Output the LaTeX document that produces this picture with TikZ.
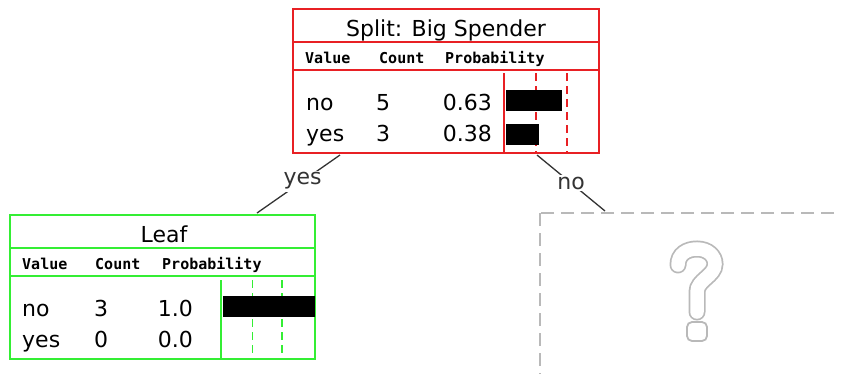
\documentclass[tikz,border=0pt]{standalone}
\usepackage{fontspec}
\setmainfont{DejaVu Sans}
\setmonofont{DejaVu Sans Mono}
\definecolor{splitred}{RGB}{232,32,36}
\definecolor{leafgreen}{RGB}{52,238,52}
\definecolor{edgegray}{RGB}{51,51,51}
\definecolor{unknowngray}{RGB}{185,185,185}

\begin{document}
\begin{tikzpicture}[x=1pt, y=-1pt, inner sep=0pt, font=\fontsize{22}{26}\selectfont]
	\tikzset{hdr/.style={anchor=base west, font=\ttfamily\bfseries\fontsize{15}{17}\selectfont},
	  cell/.style={anchor=base west}, num/.style={anchor=base east},
	  bar/.style={fill=black}, grid/.style={line width=1.4pt}}
	\useasboundingbox (0,0) rectangle (841,373);
	% split: big spender
	\draw[splitred, grid] (293,9) rectangle (599,153);
	\draw[splitred, grid] (293,42) -- (599,42) (293,70) -- (599,70);
	\draw[splitred, grid] (504,73) -- (504,153);
	\draw[splitred, grid, dash pattern=on 8pt off 5pt] (536,73) -- (536,153) (567,73) -- (567,153);
	\node[anchor=base] (splittitle) at (446,36) {Split: Big Spender};
	\node[hdr] (splitvalue) at (305,63) {Value};
	\node[hdr] (splitcount) at (379,63) {Count};
	\node[hdr] (splitprob) at (445,63) {Probability};
	\node[cell] (splitno) at (306,110) {no};
	\node[cell] (splitnocount) at (376,110) {5};
	\node[num] (splitnoprob) at (492,110) {0.63};
	\node[cell] (splityes) at (306,141) {yes};
	\node[cell] (splityescount) at (376,141) {3};
	\node[num] (splityesprob) at (492,141) {0.38};
	\fill[bar] (505.5,90) rectangle (562,111);
	\fill[bar] (505.5,124) rectangle (539,145);
	% leaf
	\draw[leafgreen, grid] (10,215) rectangle (315,359);
	\draw[leafgreen, grid] (10,248) -- (315,248) (10,276) -- (315,276);
	\draw[leafgreen, grid] (221,280) -- (221,359);
	\draw[leafgreen, grid, dash pattern=on 8pt off 5pt] (252.5,280) -- (252.5,359) (282,280) -- (282,359);
	\node[anchor=base] (leaftitle) at (164,242) {Leaf};
	\node[hdr] (leafvalue) at (22,269) {Value};
	\node[hdr] (leafcount) at (95,269) {Count};
	\node[hdr] (leafprob) at (162,269) {Probability};
	\node[cell] (leafno) at (22,316) {no};
	\node[cell] (leafnocount) at (94,316) {3};
	\node[num] (leafnoprob) at (193,316) {1.0};
	\node[cell] (leafyes) at (22,347) {yes};
	\node[cell] (leafyescount) at (94,347) {0};
	\node[num] (leafyesprob) at (193,347) {0.0};
	\fill[bar] (222.5,296) rectangle (315,317);
	% unknown branch
	\draw[unknowngray, line width=2.6pt, dash pattern=on 13pt off 7pt] (540,213) rectangle (860,390);
	\coordinate (qstem) at (697,312);
	\draw[unknowngray, line width=17pt, line cap=round]
	  (678,265) .. controls (678,254) and (687,249) .. (697,249)
	  .. controls (708,249) and (715,256) .. (715,264)
	  .. controls (715,276) and (697,280) .. (697,292) -- (qstem);
	\draw[white, line width=13.5pt, line cap=round]
	  (678,265) .. controls (678,254) and (687,249) .. (697,249)
	  .. controls (708,249) and (715,256) .. (715,264)
	  .. controls (715,276) and (697,280) .. (697,292) -- (qstem);
	\draw[unknowngray, fill=white, line width=1.8pt, rounded corners=5pt] (687,322) rectangle (707,341);
	% edges
	\coordinate (yesfrom) at (340,155);
	\coordinate (yesto) at (257,213);
	\coordinate (nofrom) at (537,155);
	\coordinate (noto) at (605,211);
	\draw[edgegray, line width=1.3pt] (yesfrom) -- node[pos=0.45, fill=white, inner sep=2pt] (yeslabel) {yes} (yesto);
	\draw[edgegray, line width=1.3pt] (nofrom) -- node[fill=white, inner sep=2pt] (nolabel) {no} (noto);
\end{tikzpicture}
\end{document}
